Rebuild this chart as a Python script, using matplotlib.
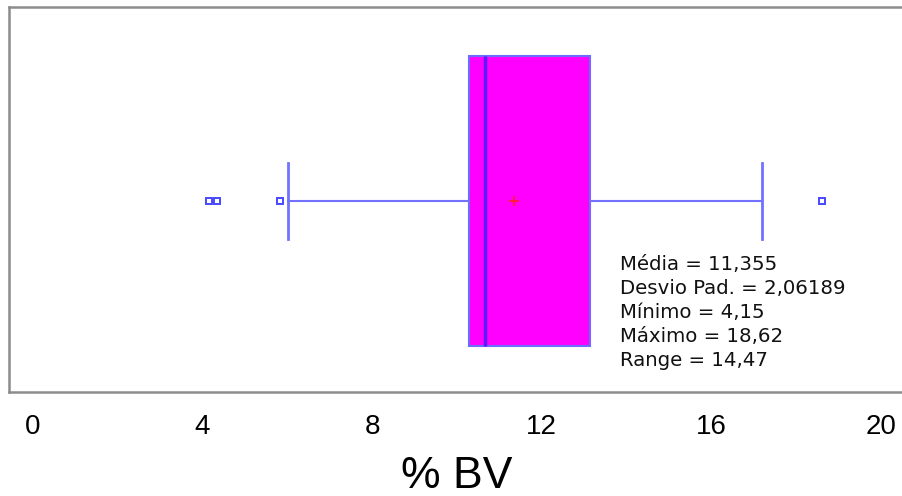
import matplotlib
matplotlib.use("Agg")
import matplotlib.pyplot as plt
import matplotlib.transforms as mtransforms

# Summary statistics of %BV
q1 = 10.28
median = 10.66
q3 = 13.14
whisker_low = 6.01
whisker_high = 17.19
mean_value = 11.355
outliers = [4.15, 4.35, 5.83, 18.62]

stat_labels = ["Média", "Desvio Pad.", "Mínimo", "Máximo", "Range"]
stat_values = ["11,355", "2,06189", "4,15", "18,62", "14,47"]

x_ticks = [0, 4, 8, 12, 16, 20]

W, H = 903, 496
fig = plt.figure(figsize=(W / 100, H / 100), dpi=100)

# axes frame in pixel terms: left 9, top 7, bottom 392, right running off the figure
px_per_unit = 42.4
x0_px = 33.0
left_px, right_px, top_px, bottom_px = 9.0, 912.0, 7.0, 392.0
ax = fig.add_axes([left_px / W, 1 - bottom_px / H,
                   (right_px - left_px) / W, (bottom_px - top_px) / H])
ax.set_xlim((left_px - x0_px) / px_per_unit, (right_px - x0_px) / px_per_unit)
ax.set_ylim(0, 1)

stats = [dict(med=median, q1=q1, q3=q3, whislo=whisker_low, whishi=whisker_high,
              mean=mean_value, fliers=outliers)]

ax.bxp(stats, positions=[0.496], widths=[0.754], capwidths=[0.196],
       orientation="horizontal", patch_artist=True, showmeans=True,
       boxprops=dict(facecolor="#ff00ff", edgecolor="#6b6bff", linewidth=1.5),
       medianprops=dict(color="#5a1aff", linewidth=2.5),
       whiskerprops=dict(color="#7272ff", linewidth=1.5),
       capprops=dict(color="#7272ff", linewidth=2),
       meanprops=dict(marker="+", markeredgecolor="#ff2020", markersize=7,
                      markeredgewidth=1.2),
       flierprops=dict(marker="s", markerfacecolor="white",
                       markeredgecolor="#4848ff", markersize=5,
                       markeredgewidth=1.4))

for sp in ax.spines.values():
    sp.set_color("#8c8c8c")
    sp.set_linewidth(1.8)

ax.set_yticks([])
ax.set_xticks(x_ticks)
ax.set_xticklabels([str(t) for t in x_ticks], family="Liberation Sans", fontsize=20)
ax.tick_params(axis="x", length=0, pad=16)

# x-axis title centred on x = 10
trans = mtransforms.blended_transform_factory(ax.transData, fig.transFigure)
ax.text(10, 1 - 476 / H, "% BV", transform=trans, ha="center", va="center",
        family="Liberation Sans", fontsize=32, clip_on=False)

# statistics block
text = "\n".join(f"{k} = {v}" for k, v in zip(stat_labels, stat_values))
fig.text(620 / W, 1 - 255 / H, text, ha="left", va="top",
         family="DejaVu Sans", fontsize=14.2, linespacing=1.33, color="#111111")

fig.savefig("out.png", dpi=100)
